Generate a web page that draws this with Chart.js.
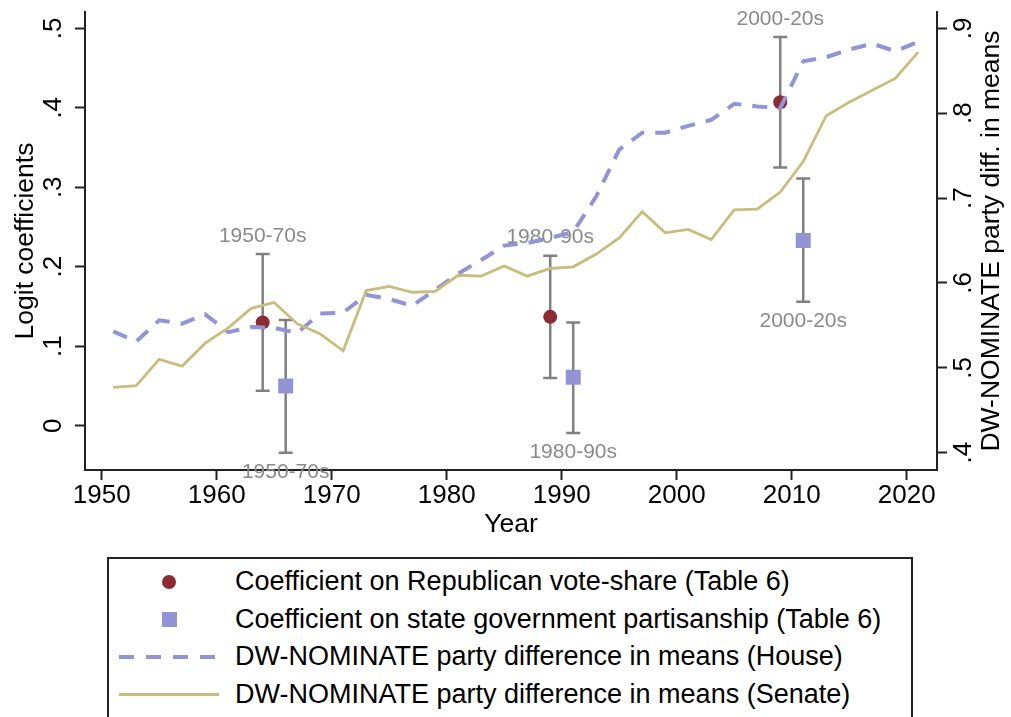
<!DOCTYPE html>
<html>
<head>
<meta charset="utf-8">
<script src="https://cdn.jsdelivr.net/npm/chart.js@4.4.1/dist/chart.umd.min.js"></script>
<style>
  html, body { margin: 0; padding: 0; background: #fff; }
  #wrap { position: relative; width: 1011px; height: 717px; overflow: hidden; font-family: 'Liberation Sans', Arial, sans-serif; }
  #chartBox { position: absolute; left: 0; top: 0; width: 1011px; height: 550px; }
  #legend { position: absolute; left: 107px; top: 557px; width: 806px; height: 200px; border: 2px solid #222; box-sizing: border-box; padding-top: 4px; }
  .row { display: flex; align-items: center; height: 37.5px; line-height: 37.5px; font-size: 27px; color: #000; white-space: nowrap; }
  .key { position: relative; width: 100px; height: 100%; margin-left: 10px; margin-right: 16px; flex: none; }
  .dot { position: absolute; left: 43px; top: 11.75px; width: 14px; height: 14px; border-radius: 50%; background: #8c2b33; }
  .sq { position: absolute; left: 42.5px; top: 11.25px; width: 15px; height: 15px; background: #9393d6; }
  .dash { position: absolute; left: 0; top: 16.75px; width: 100px; height: 4px; background: repeating-linear-gradient(to right, #9393d6 0 15px, transparent 15px 27px); }
  .solid { position: absolute; left: 0; top: 17.25px; width: 100px; height: 3px; background: #c8bd7c; }
</style>
</head>
<body>
<div id="wrap">
  <div id="chartBox"><canvas id="chart"></canvas></div>
  <div id="legend">
    <div class="row"><div class="key"><div class="dot"></div></div>Coefficient on Republican vote-share (Table 6)</div>
    <div class="row"><div class="key"><div class="sq"></div></div>Coefficient on state government partisanship (Table 6)</div>
    <div class="row"><div class="key"><div class="dash"></div></div>DW-NOMINATE party difference in means (House)</div>
    <div class="row"><div class="key"><div class="solid"></div></div>DW-NOMINATE party difference in means (Senate)</div>
  </div>
</div>
<script>
// congress years (odd years) for the DW-NOMINATE series
const years = [1951, 1953, 1955, 1957, 1959, 1961, 1963, 1965, 1967, 1969, 1971, 1973, 1975, 1977, 1979, 1981, 1983, 1985,
  1987, 1989, 1991, 1993, 1995, 1997, 1999, 2001, 2003, 2005, 2007, 2009, 2011, 2013, 2015, 2017, 2019, 2021];
const houseDiff = [0.543, 0.531, 0.556, 0.552, 0.563, 0.542, 0.548, 0.547, 0.541, 0.564, 0.565, 0.586, 0.581, 0.573, 0.592, 0.611, 0.627, 0.644,
  0.647, 0.653, 0.660, 0.702, 0.757, 0.777, 0.777, 0.785, 0.792, 0.811, 0.808, 0.806, 0.861, 0.866, 0.875, 0.882, 0.873, 0.884];
const senateDiff = [0.477, 0.479, 0.510, 0.502, 0.529, 0.547, 0.570, 0.577, 0.552, 0.540, 0.520, 0.591, 0.596, 0.589, 0.590, 0.609, 0.608, 0.620,
  0.608, 0.617, 0.619, 0.634, 0.653, 0.684, 0.659, 0.663, 0.651, 0.686, 0.687, 0.707, 0.743, 0.797, 0.813, 0.827, 0.841, 0.872];

// logit coefficients with confidence intervals
const periodLabels = ['1950-70s', '1980-90s', '2000-20s'];
const repYears = [1964, 1989, 2009];
const repCoef = [0.130, 0.137, 0.407];
const repLo = [0.044, 0.060, 0.325];
const repHi = [0.216, 0.214, 0.489];
const govYears = [1966, 1991, 2011];
const govCoef = [0.050, 0.061, 0.233];
const govLo = [-0.034, -0.009, 0.156];
const govHi = [0.133, 0.130, 0.311];

const xTicks = [1950, 1960, 1970, 1980, 1990, 2000, 2010, 2020];
const leftTicks = [0, 0.1, 0.2, 0.3, 0.4, 0.5];
const rightTicks = [0.4, 0.5, 0.6, 0.7, 0.8, 0.9];

const FONT = "'Liberation Sans', Arial, sans-serif";
const AXIS = '#222';
const HOUSE = '#9393d6';
const SENATE = '#c8bd7c';
const RED = '#8c2b33';
const BAR = '#808080';

const fmt = (v) => (v === 0 ? '0' : v.toFixed(1).replace(/^0/, ''));
const pts = (xs, ys) => xs.map((x, i) => ({ x, y: ys[i] }));

const errorBars = {
  id: 'errorBars',
  beforeDatasetsDraw(chart) {
    const { ctx } = chart;
    const x = chart.scales.x;
    const y = chart.scales.y;
    ctx.save();
    ctx.strokeStyle = BAR;
    ctx.lineWidth = 2.5;
    const draw = (xs, lo, hi) => {
      xs.forEach((yr, i) => {
        const px = x.getPixelForValue(yr);
        const top = y.getPixelForValue(hi[i]);
        const bot = y.getPixelForValue(lo[i]);
        ctx.beginPath();
        ctx.moveTo(px, top); ctx.lineTo(px, bot);
        ctx.moveTo(px - 7, top); ctx.lineTo(px + 7, top);
        ctx.moveTo(px - 7, bot); ctx.lineTo(px + 7, bot);
        ctx.stroke();
      });
    };
    draw(repYears, repLo, repHi);
    draw(govYears, govLo, govHi);

    ctx.fillStyle = '#8a8a8a';
    ctx.font = `21px ${FONT}`;
    ctx.textAlign = 'center';
    ctx.textBaseline = 'middle';
    periodLabels.forEach((t, i) => {
      ctx.fillText(t, x.getPixelForValue(repYears[i]), y.getPixelForValue(repHi[i]) - 18);
      ctx.fillText(t, x.getPixelForValue(govYears[i]), y.getPixelForValue(govLo[i]) + 19);
    });
    ctx.restore();
  }
};

const rightTitle = {
  id: 'rightTitle',
  afterDraw(chart) {
    const { ctx, chartArea } = chart;
    ctx.save();
    ctx.translate(992, (chartArea.top + chartArea.bottom) / 2);
    ctx.rotate(-Math.PI / 2);
    ctx.fillStyle = '#000';
    ctx.font = `26.5px ${FONT}`;
    ctx.textAlign = 'center';
    ctx.textBaseline = 'middle';
    ctx.fillText('DW-NOMINATE party diff. in means', 0, 0);
    ctx.restore();
  }
};

const gridOpts = { display: true, drawOnChartArea: false, drawTicks: true, tickLength: 10, tickWidth: 2, tickColor: AXIS };
const borderOpts = { display: true, color: AXIS, width: 2 };

new Chart(document.getElementById('chart'), {
  type: 'line',
  data: {
    datasets: [
      { label: 'Coefficient on Republican vote-share (Table 6)', type: 'scatter', data: pts(repYears, repCoef), yAxisID: 'y',
        pointStyle: 'circle', pointRadius: 7, backgroundColor: RED, borderWidth: 0, order: 3 },
      { label: 'Coefficient on state government partisanship (Table 6)', type: 'scatter', data: pts(govYears, govCoef), yAxisID: 'y',
        pointStyle: 'rect', pointRadius: 10.6, backgroundColor: HOUSE, borderWidth: 0, order: 2 },
      { label: 'DW-NOMINATE party difference in means (House)', data: pts(years, houseDiff), yAxisID: 'y2',
        borderColor: HOUSE, borderWidth: 4, borderDash: [15, 11], pointRadius: 0, tension: 0, order: 1 },
      { label: 'DW-NOMINATE party difference in means (Senate)', data: pts(years, senateDiff), yAxisID: 'y2',
        borderColor: SENATE, borderWidth: 2.8, pointRadius: 0, tension: 0, order: 0 }
    ]
  },
  options: {
    responsive: true,
    maintainAspectRatio: false,
    animation: false,
    events: [],
    layout: { padding: { top: 12, left: 0, right: 0, bottom: 0 } },
    plugins: { legend: { display: false }, tooltip: { enabled: false } },
    scales: {
      x: {
        type: 'linear', min: 1948.55, max: 2022.63,
        afterBuildTicks: (s) => { s.ticks = xTicks.map((v) => ({ value: v })); },
        afterFit: (s) => { s.height = 80; s.paddingLeft = 0; s.paddingRight = 0; },
        grid: gridOpts, border: borderOpts,
        ticks: { color: '#000', font: { family: FONT, size: 26 }, padding: 0, maxRotation: 0, callback: (v) => String(v) },
        title: { display: true, text: 'Year', color: '#000', font: { family: FONT, size: 26.5 }, padding: { top: 0, bottom: 9 } }
      },
      y: {
        position: 'left', min: -0.0557, max: 0.5205,
        afterBuildTicks: (s) => { s.ticks = leftTicks.map((v) => ({ value: v })); },
        afterFit: (s) => { s.width = 85; s.paddingTop = 0; s.paddingBottom = 0; },
        grid: gridOpts, border: borderOpts,
        ticks: { color: '#000', font: { family: FONT, size: 26 }, padding: 10, minRotation: 90, maxRotation: 90, crossAlign: 'center', callback: fmt },
        title: { display: true, text: 'Logit coefficients', color: '#000', font: { family: FONT, size: 26.5 }, padding: { top: 10, bottom: 0 } }
      },
      y2: {
        position: 'right', min: 0.3796, max: 0.9192,
        afterBuildTicks: (s) => { s.ticks = rightTicks.map((v) => ({ value: v })); },
        afterFit: (s) => { s.width = 74; s.paddingTop = 0; s.paddingBottom = 0; },
        grid: gridOpts, border: borderOpts,
        ticks: { color: '#000', font: { family: FONT, size: 26 }, padding: 5.6, minRotation: 90, maxRotation: 90, crossAlign: 'center', callback: fmt }
      }
    }
  },
  plugins: [errorBars, rightTitle]
});
</script>
</body>
</html>
